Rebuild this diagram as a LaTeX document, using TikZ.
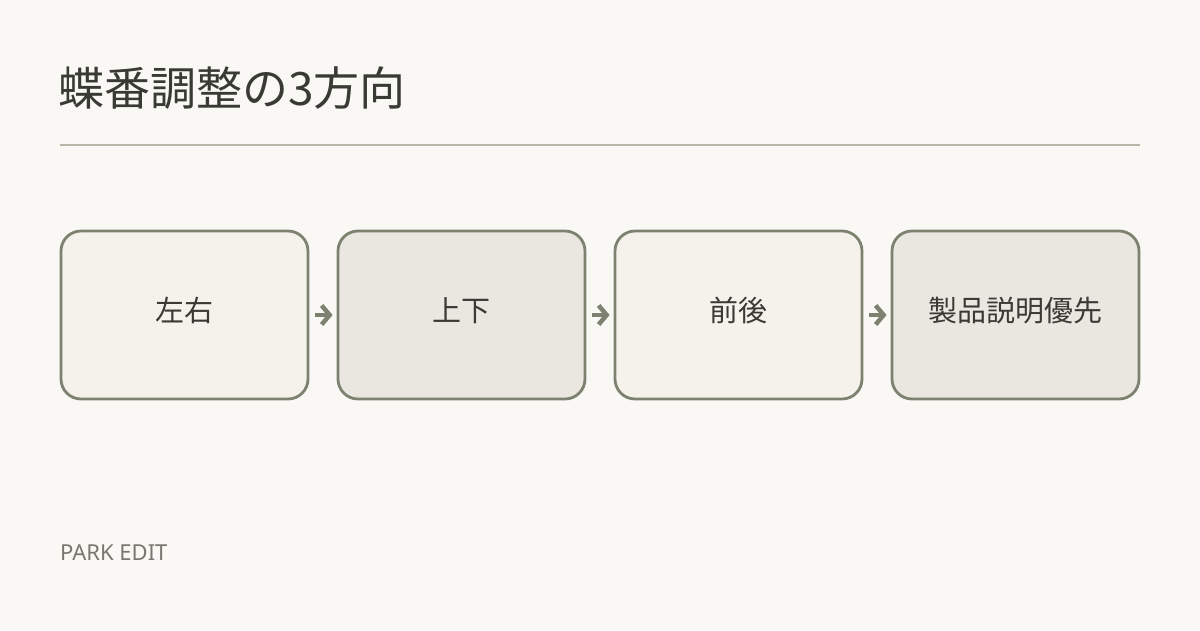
\documentclass[tikz,border=0pt]{standalone}
\usepackage{fontspec}
\setmainfont{Noto Sans}
\newfontfamily\jp{Noto Sans CJK JP}
\usetikzlibrary{arrows.meta}
\definecolor{bg}{HTML}{F9F8F4}
\definecolor{fillA}{HTML}{F4F2EA}
\definecolor{fillB}{HTML}{E9E7E0}
\definecolor{edge}{HTML}{7D8270}
\definecolor{ink}{HTML}{3A3A35}
\definecolor{rulec}{HTML}{B7B7A8}
\definecolor{foot}{HTML}{77776F}
\tikzset{
  stepbox/.style={draw=edge, line width=2.8pt, rounded corners=20pt, minimum width=247pt, minimum height=168pt, inner sep=0pt, text height=25pt, text depth=13pt, font=\jp\fontsize{29}{34}\selectfont, text=ink},
  lightbox/.style={stepbox, fill=fillA},
  darkbox/.style={stepbox, fill=fillB},
  flow/.style={draw=edge, line width=4.5pt, -{Straight Barb[length=8pt,width=19pt,line width=4.5pt]}, shorten <=6pt, shorten >=4pt}
}
\begin{document}
\begin{tikzpicture}[x=1pt,y=-1pt]
\fill[bg] (0,0) rectangle (1200,630);
\useasboundingbox (0,0) rectangle (1200,630);
\node[anchor=base west, inner sep=0pt, text=ink, font=\jp\fontsize{46}{52}\selectfont] (title) at (58,105) {蝶番調整の3方向};
\draw[rulec, line width=2pt] (60,145) coordinate (r1) -- (1140,145) coordinate (r2);
\node[lightbox] (a) at (184.5,315) {左右};
\node[darkbox] (b) at (461.5,315) {上下};
\node[lightbox] (c) at (738.5,315) {前後};
\node[darkbox] (d) at (1015.5,315) {製品説明優先};
\draw[flow] (a) -- (b);
\draw[flow] (b) -- (c);
\draw[flow] (c) -- (d);
\node[anchor=base west, inner sep=0pt, text=foot, font=\fontsize{22}{26}\selectfont] (footer) at (60,560) {PARK EDIT};
\end{tikzpicture}
\end{document}
